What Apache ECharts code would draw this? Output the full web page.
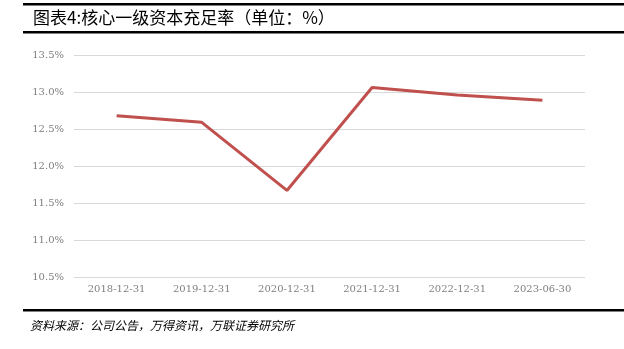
<!DOCTYPE html>
<html><head><meta charset="utf-8">
<script src="https://cdn.jsdelivr.net/npm/echarts@6/dist/echarts.min.js"></script>
<style>html,body{margin:0;padding:0;background:#fff}#c{width:624px;height:349px}</style>
</head><body><div id="c"></div>
<script>
const categories = ['2018-12-31','2019-12-31','2020-12-31','2021-12-31','2022-12-31','2023-06-30'];
const tier1Ratio = [12.68, 12.59, 11.67, 13.06, 12.96, 12.89];
const titleText = '图表4:核心一级资本充足率（单位：%）';
const sourceText = '资料来源：公司公告，万得资讯，万联证券研究所';

const chart = echarts.init(document.getElementById('c'));
chart.setOption({
  animation: false,
  backgroundColor: '#fff',
  grid: { left: 74, right: 39, top: 55, bottom: 72 },
  xAxis: {
    type: 'category', data: categories, boundaryGap: true,
    axisLine: { show: false }, axisTick: { show: false },
    axisLabel: { color: '#7f7f7f', fontSize: 10, fontFamily: 'DejaVu Serif', margin: 7 }
  },
  yAxis: {
    type: 'value', min: 10.5, max: 13.5, interval: 0.5,
    axisLine: { show: false }, axisTick: { show: false },
    axisLabel: { color: '#7f7f7f', fontSize: 10, fontFamily: 'DejaVu Serif', margin: 10,
      formatter: v => v.toFixed(1) + '%' },
    splitLine: { lineStyle: { color: '#d9d9d9', width: 1 } }
  },
  series: [{
    type: 'line', data: tier1Ratio, symbol: 'none',
    lineStyle: { color: '#c0504d', width: 3 }
  }],
  graphic: [
    { type: 'rect', shape: { x: 23, y: 3, width: 601, height: 2.5 }, style: { fill: '#000' } },
    { type: 'text', left: 33, top: 9, style: { text: titleText, fill: '#000', font: '17px "Noto Sans CJK SC"' } },
    { type: 'rect', shape: { x: 23, y: 31, width: 601, height: 2.5 }, style: { fill: '#000' } },
    { type: 'rect', shape: { x: 23, y: 309, width: 601, height: 2.5 }, style: { fill: '#000' } },
    { type: 'text', left: 30, top: 319, style: { text: sourceText, fill: '#000', font: 'italic 12px "Noto Sans CJK SC"' } }
  ]
});
</script></body></html>
